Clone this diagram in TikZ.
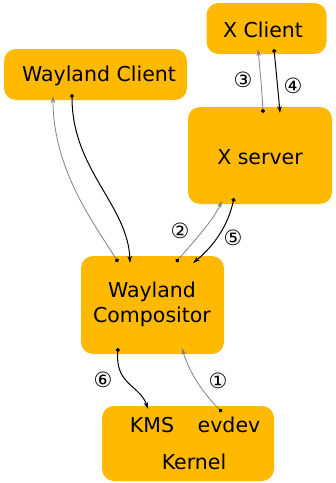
\documentclass[tikz,border=0pt]{standalone}
\usepackage{fontspec}
\setmainfont{DejaVu Sans}
\usetikzlibrary{arrows.meta}
\definecolor{boxfill}{RGB}{255,185,0}
\definecolor{lightline}{RGB}{130,130,130}
\begin{document}
\begin{tikzpicture}[x=1pt,y=-1pt,
  box/.style={fill=boxfill,draw=none,rounded corners=12pt,inner sep=0pt},
  label/.style={font=\fontsize{20.5}{25}\selectfont,inner sep=0pt},
  num/.style={font=\fontsize{21}{24}\selectfont,inner sep=0pt},
  req/.style={draw=lightline,line width=0.8pt,{Circle[length=4pt,fill=black,color=black]}-{Stealth[length=7pt,width=4.5pt]}},
  ev/.style={draw=black,line width=1pt,{Circle[length=4pt]}-{Stealth[length=7pt,width=4.5pt]}}]
\useasboundingbox (0,0) rectangle (336,483);

% boxes
\node[box,minimum width=120pt,minimum height=51pt] (xc) at (266.5,28.5) {};
\node[box,minimum width=183pt,minimum height=51pt] (wc) at (95.5,74.5) {};
\node[box,minimum width=144pt,minimum height=97pt] (xs) at (260,155.5) {};
\node[box,minimum width=143pt,minimum height=98pt] (comp) at (152.5,305) {};
\node[box,minimum width=172pt,minimum height=75pt] (kern) at (188,443.5) {};

% labels
\node[label] (xct) at (263,30) {X Client};
\node[label] (wct) at (99,76) {Wayland Client};
\node[label] (xst) at (260,157) {X server};
\node[label,align=center] (compt) at (152,304) {Wayland\\[0pt]Compositor};
\node[label] (kms) at (152,425) {KMS};
\node[label] (evdev) at (229,425) {evdev};
\node[label] (kernt) at (194,462) {Kernel};

% connector ends
\coordinate (wcIn) at (53,96);
\coordinate (wcOut) at (72,94);
\coordinate (compA) at (118,262);
\coordinate (compB) at (130,263);
\coordinate (compC) at (176,262);
\coordinate (compD) at (193,263);
\coordinate (xsIn) at (222,201);
\coordinate (xsOut) at (234,198);
\coordinate (xsA) at (263,113);
\coordinate (xsB) at (280,113);
\coordinate (xcIn) at (258,49);
\coordinate (xcOut) at (274,49);
\coordinate (compE) at (118,348);
\coordinate (compF) at (182,348);
\coordinate (kmsIn) at (148,409);
\coordinate (evOut) at (222,412);

% connectors
\draw[req] (compA) .. controls (95,225) and (53,170) .. (wcIn);
\draw[ev] (wcOut) .. controls (72,170) and (128,205) .. (compB);
\draw[req] (compC) .. controls (195,240) and (212,222) .. (xsIn);
\draw[ev] (xsOut) .. controls (228,225) and (215,245) .. (compD);
\draw[req] (xsA) .. controls (262,90) and (260,70) .. (xcIn);
\draw[ev] (xcOut) .. controls (276,70) and (278,90) .. (xsB);
\draw[ev] (compE) .. controls (115,385) and (140,385) .. (kmsIn);
\draw[req] (evOut) .. controls (205,395) and (190,375) .. (compF);

% step numbers
\node[num] (n3) at (243,80) {③};
\node[num] (n4) at (293,86) {④};
\node[num] (n2) at (180,231) {②};
\node[num] (n5) at (233,238) {⑤};
\node[num] (n6) at (103,380) {⑥};
\node[num] (n1) at (218,381) {①};
\end{tikzpicture}
\end{document}
